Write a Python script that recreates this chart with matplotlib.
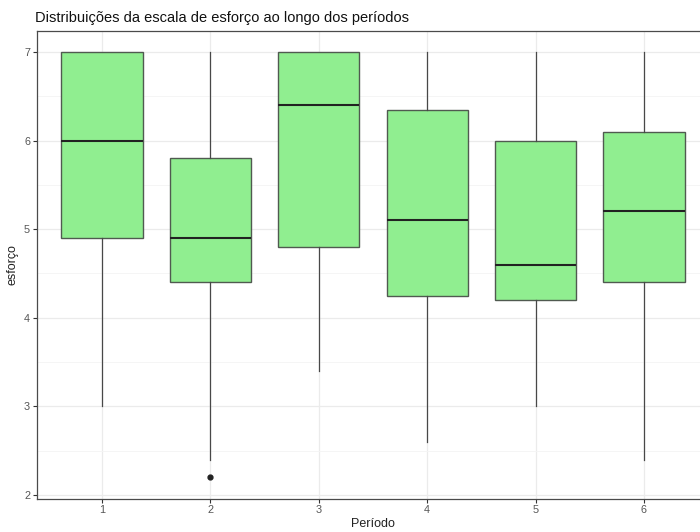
import matplotlib
matplotlib.use("Agg")
import matplotlib.pyplot as plt
from matplotlib.ticker import MultipleLocator

plt.rcParams["font.family"] = ["Liberation Sans", "DejaVu Sans"]

# resumo dos boxplots por período
periodos = [1, 2, 3, 4, 5, 6]
whis_baixo = [3.0, 2.4, 3.4, 2.6, 3.0, 2.4]
q1 = [4.9, 4.4, 4.8, 4.25, 4.2, 4.4]
mediana = [6.0, 4.9, 6.4, 5.1, 4.6, 5.2]
q3 = [7.0, 5.8, 7.0, 6.35, 6.0, 6.1]
whis_alto = [7.0, 7.0, 7.0, 7.0, 7.0, 7.0]
outliers = [[], [2.2], [], [], [], []]

stats = []
for i in range(len(periodos)):
    stats.append({
        "whislo": whis_baixo[i], "q1": q1[i], "med": mediana[i],
        "q3": q3[i], "whishi": whis_alto[i], "fliers": outliers[i],
    })

fig = plt.figure(figsize=(7, 5.32), dpi=100)
W, H = 700, 532
ax = fig.add_axes([37 / W, (H - 498.5) / H, (709 - 37) / W, (498.5 - 30.7) / H])

ax.bxp(stats, positions=periodos, widths=0.75, patch_artist=True,
       showcaps=False, zorder=3,
       boxprops=dict(facecolor="#90EE90", edgecolor="#505a50", linewidth=1.0),
       whiskerprops=dict(color="#484848", linewidth=0.9),
       medianprops=dict(color="#222222", linewidth=1.5),
       flierprops=dict(marker="o", markerfacecolor="#222222",
                       markeredgecolor="#222222", markersize=3.5))

ax.set_xlim(0.4, 6.6)
ax.set_ylim(1.96, 7.24)
ax.set_xticks(periodos)
ax.set_xticklabels([str(p) for p in periodos])
ax.yaxis.set_major_locator(MultipleLocator(1))
ax.yaxis.set_minor_locator(MultipleLocator(0.5))

ax.grid(which="major", color="#EBEBEB", linewidth=0.9, zorder=0)
ax.grid(which="minor", axis="y", color="#F4F4F4", linewidth=0.6, zorder=0)
ax.set_axisbelow(True)
for s in ax.spines.values():
    s.set_color("#4a4a4a")
    s.set_linewidth(0.9)

ax.tick_params(which="major", length=3, color="#333333", labelcolor="#555555",
               labelsize=7.8, pad=2)
ax.tick_params(which="minor", length=0)

ax.set_xlabel("Período", fontsize=9, color="#222222", labelpad=2)
ax.set_ylabel("esforço", fontsize=9, color="#222222", labelpad=4)
ax.set_title("Distribuições da escala de esforço ao longo dos períodos",
             fontsize=10.5, loc="left", x=-0.003, pad=6, color="#111111")

fig.savefig("out.png", dpi=100)
